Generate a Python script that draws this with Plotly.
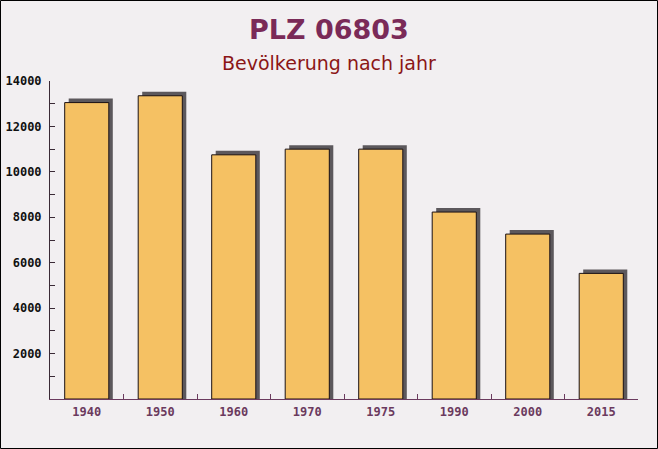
import plotly.graph_objects as go

years = ["1940", "1950", "1960", "1970", "1975", "1990", "2000", "2015"]
population = [13050, 13350, 10750, 11000, 11000, 8230, 7260, 5530]
y_ticks = [2000, 4000, 6000, 8000, 10000, 12000, 14000]

W, H = 658, 449
ML, MR, MT, MB = 50, 20, 81, 50
pw, ph = W - ML - MR, H - MT - MB

bar_w = 0.6
shadow_dx = 4 / (pw / len(years))          # ~4px in category units
shadow_dy = 4 * 14000 / ph                 # ~4px in data units

fig = go.Figure()
fig.add_trace(go.Bar(
    x=years, y=[v + shadow_dy for v in population],
    width=bar_w, offset=-bar_w / 2 + shadow_dx,
    marker=dict(color="#5c585c", line=dict(width=0)),
    hoverinfo="skip", showlegend=False,
))
fig.add_trace(go.Bar(
    x=years, y=population,
    width=bar_w, offset=-bar_w / 2,
    marker=dict(color="#f5c163", line=dict(color="#1a1014", width=1)),
    showlegend=False,
))


def py(pix):
    return (H - MB - pix) / ph


fig.update_layout(
    width=W, height=H,
    margin=dict(l=ML, r=MR, t=MT, b=MB, autoexpand=False),
    barmode="overlay",
    paper_bgcolor="#f2eff1",
    plot_bgcolor="#f2eff1",
    font=dict(family="DejaVu Sans Mono", size=12),
    annotations=[
        dict(text="<b>PLZ 06803</b>", x=(W / 2 - ML) / pw, xref="paper",
             y=py(30), yref="paper", yanchor="middle", xanchor="center",
             showarrow=False, font=dict(family="DejaVu Sans", size=27, color="#7a2a58")),
        dict(text="Bevölkerung nach jahr", x=(W / 2 - ML) / pw, xref="paper",
             y=py(63), yref="paper", yanchor="middle", xanchor="center",
             showarrow=False, font=dict(family="DejaVu Sans", size=19, color="#8b1616")),
    ],
)

fig.update_xaxes(
    type="category", range=[-0.5, len(years) - 0.5], automargin=False,
    showline=True, linecolor="#6b3a5e", linewidth=1,
    ticks="inside", tickson="boundaries", ticklen=5, tickcolor="#6b3a5e",
    ticklabelstandoff=2,
    tickfont=dict(family="DejaVu Sans Mono", size=12, color="#6b3a5e", weight="bold"),
    showgrid=False, zeroline=False,
)
fig.update_yaxes(
    range=[0, 14000], automargin=False,
    tickmode="array", tickvals=y_ticks, ticktext=[str(v) for v in y_ticks],
    showline=True, linecolor="#3a2a36", linewidth=1,
    ticks="inside", ticklen=5, tickcolor="#3a2a36",
    ticklabelstandoff=5,
    minor=dict(dtick=1000, tick0=0, ticks="inside", ticklen=5, tickcolor="#3a2a36", showgrid=False),
    tickfont=dict(family="DejaVu Sans Mono", size=12, color="#111111", weight="bold"),
    showgrid=False, zeroline=False,
)

fig.add_shape(type="rect", xref="paper", yref="paper",
              x0=-(ML - 0.5) / pw, x1=(W - ML - 0.5) / pw,
              y0=-(MB - 0.5) / ph, y1=(H - MB - 0.5) / ph,
              line=dict(color="#000000", width=1), fillcolor="rgba(0,0,0,0)", layer="above")

fig.write_html("out.html")
